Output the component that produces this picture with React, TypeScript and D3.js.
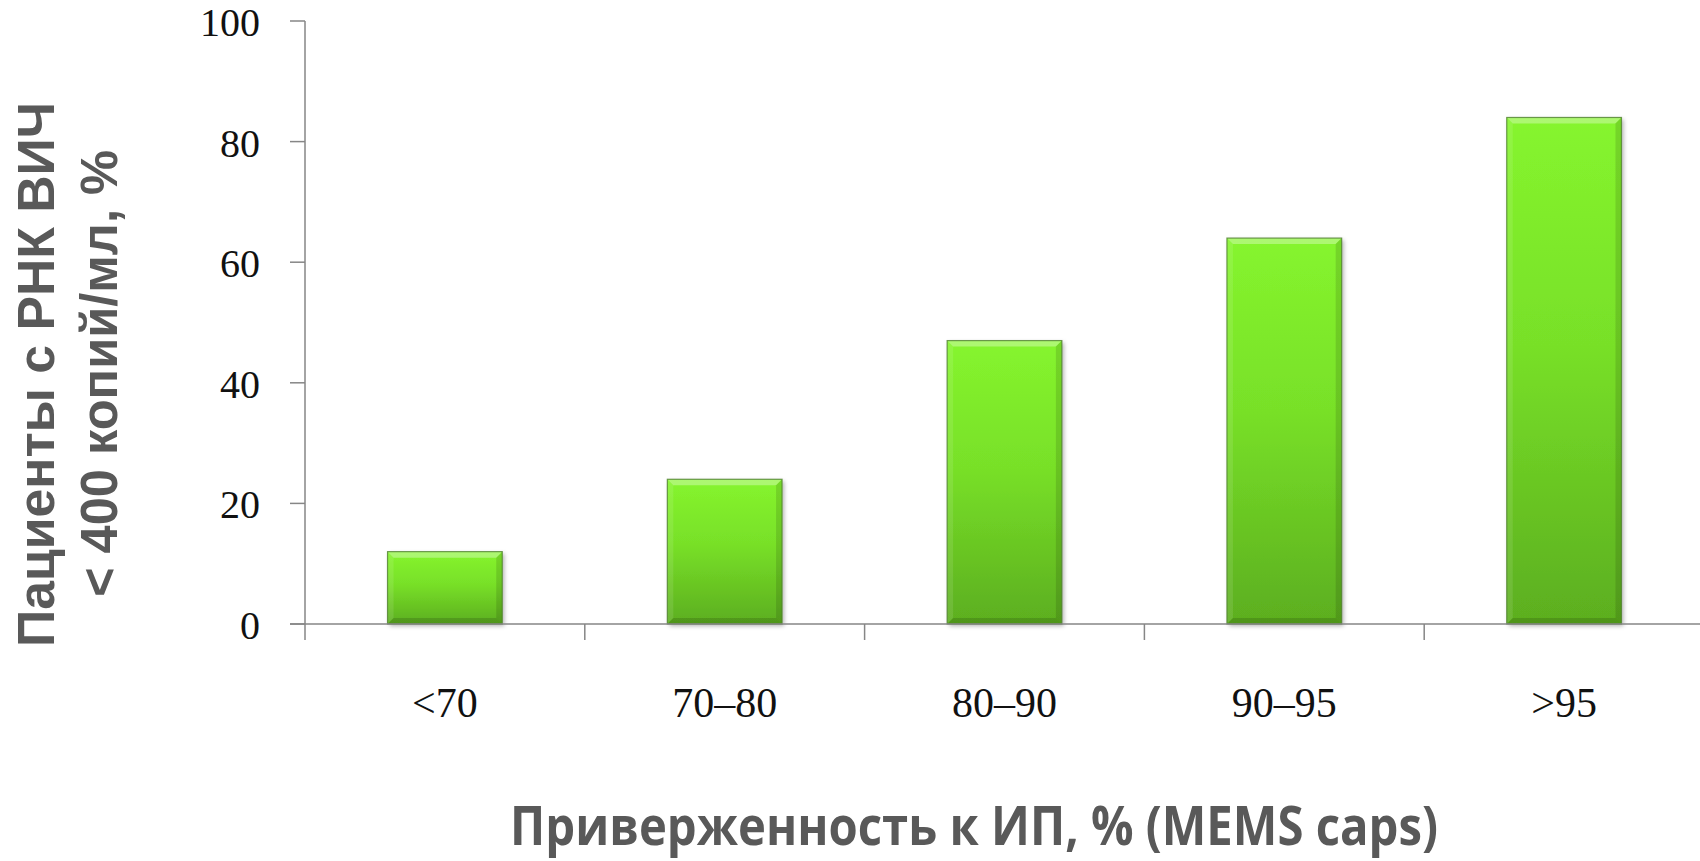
import React from "react";
import * as d3 from "d3";

const categories: string[] = ["<70", "70–80", "80–90", "90–95", ">95"];
const values: number[] = [12, 24, 47, 64, 84];
const yTicks: number[] = [0, 20, 40, 60, 80, 100];
const yTitleLine1 = "Пациенты с РНК ВИЧ";
const yTitleLine2 = "< 400 копий/мл, %";
const xTitle = "Приверженность к ИП, % (MEMS caps)";

const W = 1700;
const H = 861;
const axisX = 305;
const zeroY = 624;
const topY = 21;
const axisColor = "#868686";
const titleColor = "#595959";

export default function App() {
  const x = d3
    .scaleBand<string>()
    .domain(categories)
    .range([axisX, axisX + 1399])
    .paddingInner(0.59)
    .paddingOuter(0.295);
  const y = d3.scaleLinear().domain([0, 100]).range([zeroY, topY]);
  const step = x.step();
  const bw = x.bandwidth();
  const b = 6;

  return (
    <svg
      width={W}
      height={H}
      style={{ position: "absolute", left: 0, top: 0, background: "#fff" }}
    >
      <defs>
        <linearGradient id="barGrad" x1="0" y1="0" x2="0" y2="1">
          <stop offset="0" stopColor="#86F52E" />
          <stop offset="0.45" stopColor="#78E028" />
          <stop offset="1" stopColor="#5CAE1F" />
        </linearGradient>
        <filter id="shadow" x="-20%" y="-20%" width="140%" height="140%">
          <feDropShadow dx="2" dy="2" stdDeviation="2" floodColor="#000" floodOpacity="0.3" />
        </filter>
      </defs>

      {/* bars */}
      {categories.map((c, i) => {
        const x0 = x(c) as number;
        const x1 = x0 + bw;
        const y0 = y(values[i]);
        const y1 = y(0);
        return (
          <g key={c}>
            <rect
              x={x0}
              y={y0}
              width={bw}
              height={y1 - y0}
              fill="url(#barGrad)"
              filter="url(#shadow)"
            />
            <polygon
              points={`${x0},${y0} ${x1},${y0} ${x1 - b},${y0 + b} ${x0 + b},${y0 + b}`}
              fill="#ffffff"
              opacity={0.32}
            />
            <polygon
              points={`${x0},${y0} ${x0 + b},${y0 + b} ${x0 + b},${y1 - b} ${x0},${y1}`}
              fill="#ffffff"
              opacity={0.1}
            />
            <polygon
              points={`${x1},${y0} ${x1},${y1} ${x1 - b},${y1 - b} ${x1 - b},${y0 + b}`}
              fill="#000000"
              opacity={0.12}
            />
            <polygon
              points={`${x0},${y1} ${x0 + b},${y1 - b} ${x1 - b},${y1 - b} ${x1},${y1}`}
              fill="#000000"
              opacity={0.14}
            />
            <rect
              x={x0}
              y={y0}
              width={bw}
              height={y1 - y0}
              fill="none"
              stroke="#4F7F2E"
              strokeOpacity={0.8}
              strokeWidth={1.2}
            />
          </g>
        );
      })}

      {/* y axis */}
      <line x1={axisX} x2={axisX} y1={topY} y2={zeroY + 16} stroke={axisColor} strokeWidth={1.5} />
      {yTicks.map((t) => (
        <g key={t}>
          <line x1={axisX - 15} x2={axisX} y1={y(t)} y2={y(t)} stroke={axisColor} strokeWidth={1.5} />
          <text
            x={260}
            y={y(t) + 15}
            textAnchor="end"
            fontFamily="'Liberation Serif', 'DejaVu Serif', serif"
            fontSize={40}
            fill="#111"
          >
            {t}
          </text>
        </g>
      ))}

      {/* x axis */}
      <line x1={axisX - 15} x2={W} y1={zeroY} y2={zeroY} stroke={axisColor} strokeWidth={1.5} />
      {categories.slice(1).map((c, i) => {
        const bx = axisX + step * (i + 1);
        return (
          <line key={c} x1={bx} x2={bx} y1={zeroY} y2={zeroY + 16} stroke={axisColor} strokeWidth={1.5} />
        );
      })}
      {categories.map((c) => (
        <text
          key={c}
          x={(x(c) as number) + bw / 2}
          y={717}
          textAnchor="middle"
          fontFamily="'Liberation Serif', 'DejaVu Serif', serif"
          fontSize={42}
          fill="#111"
        >
          {c}
        </text>
      ))}

      {/* y title */}
      <text
        transform={`translate(54, 374.5) rotate(-90)`}
        textAnchor="middle"
        fontFamily="'Liberation Sans', Arial, sans-serif"
        fontWeight="bold"
        fontSize={52}
        fill={titleColor}
        textLength={545}
        lengthAdjust="spacingAndGlyphs"
      >
        {yTitleLine1}
      </text>
      <text
        transform={`translate(117, 373.5) rotate(-90)`}
        textAnchor="middle"
        fontFamily="'Liberation Sans', Arial, sans-serif"
        fontWeight="bold"
        fontSize={52}
        fill={titleColor}
        textLength={447}
        lengthAdjust="spacingAndGlyphs"
      >
        {yTitleLine2}
      </text>

      {/* x title */}
      <text
        x={974}
        y={845}
        textAnchor="middle"
        fontFamily="'Open Sans', 'Noto Sans', sans-serif"
        fontWeight="bold"
        fontSize={54}
        fill={titleColor}
        textLength={928}
        lengthAdjust="spacingAndGlyphs"
      >
        {xTitle}
      </text>
    </svg>
  );
}
